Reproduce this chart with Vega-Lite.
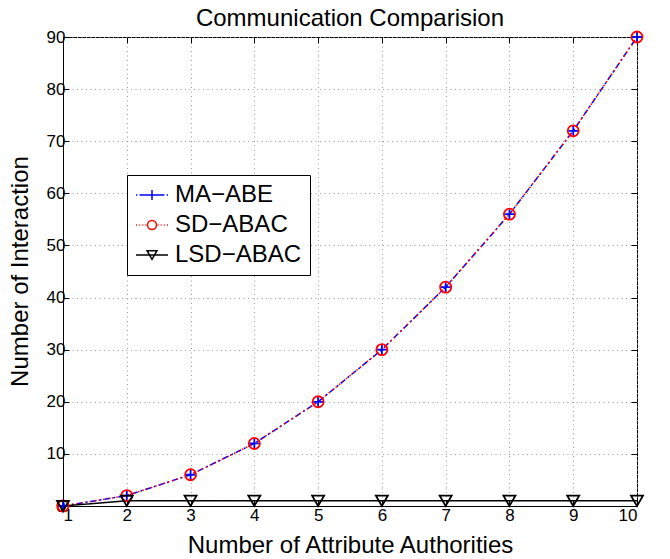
{
  "$schema": "https://vega.github.io/schema/vega-lite/v6.json",
  "width": 574,
  "height": 469,
  "autosize": {"type": "none"},
  "padding": {"left": 63, "top": 37, "right": 33, "bottom": 53},
  "background": "white",
  "title": {"text": "Communication Comparision", "fontSize": 24, "font": "Liberation Sans", "fontWeight": "normal", "color": "black", "baseline": "alphabetic", "offset": 12, "dy": 34, "anchor": "middle", "frame": "group"},
  "config": {
    "font": "Liberation Sans",
    "view": {"stroke": "black", "strokeWidth": 1},
    "axis": {"labelFont": "Liberation Sans", "labelFontSize": 17, "labelColor": "black", "titleFont": "Liberation Sans", "titleFontSize": 24, "titleFontWeight": "normal", "titleColor": "black", "domainColor": "black", "tickColor": "black", "gridColor": "#9a9a9a", "gridDash": [1, 3.5], "tickSize": -6, "labelPadding": 4}
  },
  "data": {"values": [
    {"x": 1, "series": "MA−ABE", "value": 0},
    {"x": 2, "series": "MA−ABE", "value": 2},
    {"x": 3, "series": "MA−ABE", "value": 6},
    {"x": 4, "series": "MA−ABE", "value": 12},
    {"x": 5, "series": "MA−ABE", "value": 20},
    {"x": 6, "series": "MA−ABE", "value": 30},
    {"x": 7, "series": "MA−ABE", "value": 42},
    {"x": 8, "series": "MA−ABE", "value": 56},
    {"x": 9, "series": "MA−ABE", "value": 72},
    {"x": 10, "series": "MA−ABE", "value": 90},
    {"x": 1, "series": "SD−ABAC", "value": 0},
    {"x": 2, "series": "SD−ABAC", "value": 2},
    {"x": 3, "series": "SD−ABAC", "value": 6},
    {"x": 4, "series": "SD−ABAC", "value": 12},
    {"x": 5, "series": "SD−ABAC", "value": 20},
    {"x": 6, "series": "SD−ABAC", "value": 30},
    {"x": 7, "series": "SD−ABAC", "value": 42},
    {"x": 8, "series": "SD−ABAC", "value": 56},
    {"x": 9, "series": "SD−ABAC", "value": 72},
    {"x": 10, "series": "SD−ABAC", "value": 90},
    {"x": 1, "series": "LSD−ABAC", "value": 0},
    {"x": 2, "series": "LSD−ABAC", "value": 1},
    {"x": 3, "series": "LSD−ABAC", "value": 1},
    {"x": 4, "series": "LSD−ABAC", "value": 1},
    {"x": 5, "series": "LSD−ABAC", "value": 1},
    {"x": 6, "series": "LSD−ABAC", "value": 1},
    {"x": 7, "series": "LSD−ABAC", "value": 1},
    {"x": 8, "series": "LSD−ABAC", "value": 1},
    {"x": 9, "series": "LSD−ABAC", "value": 1},
    {"x": 10, "series": "LSD−ABAC", "value": 1}
  ]},
  "layer": [
    {
      "mark": {"type": "line", "strokeWidth": 1.5, "clip": false},
      "encoding": {
        "x": {"field": "x", "type": "quantitative", "scale": {"domain": [1, 10], "nice": false, "zero": false},
              "axis": {"values": [1,2,3,4,5,6,7,8,9,10], "title": "Number of Attribute Authorities", "grid": true, "titleBaseline": "alphabetic", "titleY": 46, "labelPadding": 7}},
        "y": {"field": "value", "type": "quantitative", "scale": {"domain": [0, 90], "nice": false},
              "axis": {"values": [0,10,20,30,40,50,60,70,80,90], "title": "Number of Interaction", "grid": true, "titleBaseline": "alphabetic", "titleX": -36, "titleY": 234, "titleAngle": -90}},
        "stroke": {"field": "series", "type": "nominal", "scale": {"domain": ["MA−ABE", "SD−ABAC", "LSD−ABAC"], "range": ["#0000ff", "#ff0000", "#000000"]}, "legend": null},
        "strokeDash": {"field": "series", "type": "nominal", "scale": {"domain": ["MA−ABE", "SD−ABAC", "LSD−ABAC"], "range": [[6, 3, 2, 3], [1.5, 3], [1, 0]]}, "legend": null}
      }
    },
    {
      "mark": {"type": "point", "filled": false, "strokeWidth": 1.8, "opacity": 1, "clip": false},
      "encoding": {
        "x": {"field": "x", "type": "quantitative", "axis": null},
        "y": {"field": "value", "type": "quantitative", "axis": null},
        "stroke": {"field": "series", "type": "nominal", "legend": null},
        "shape": {"field": "series", "type": "nominal", "scale": {"domain": ["MA−ABE", "SD−ABAC", "LSD−ABAC"], "range": ["M-1,0L1,0M0,-1L0,1", "circle", "triangle-down"]}, "legend": null},
        "size": {"field": "series", "type": "nominal", "scale": {"domain": ["MA−ABE", "SD−ABAC", "LSD−ABAC"], "range": [100, 144, 120]}, "legend": null}
      }
    },
    {
      "transform": [{"filter": "datum.x > 100"}],
      "mark": {"type": "point", "filled": false, "strokeWidth": 1.5, "opacity": 1},
      "encoding": {
        "x": {"field": "x", "type": "quantitative", "axis": {"orient": "top", "values": [1,2,3,4,5,6,7,8,9,10], "labels": false, "grid": false, "domain": false, "title": null}},
        "y": {"field": "value", "type": "quantitative", "axis": {"orient": "right", "values": [0,10,20,30,40,50,60,70,80,90], "labels": false, "grid": false, "domain": false, "title": null}},
        "color": {"field": "series", "type": "nominal", "scale": {"domain": ["MA−ABE", "SD−ABAC", "LSD−ABAC"], "range": ["#0000ff", "#ff0000", "#000000"]},
                  "legend": {"orient": "none", "legendX": 64, "legendY": 138, "title": null, "labelFontSize": 24, "labelFont": "Liberation Sans", "labelColor": "black", "symbolSize": 1024, "symbolStrokeWidth": 1.5, "strokeColor": "black", "fillColor": "white", "padding": 8, "rowPadding": 6, "labelOffset": 6, "clipHeight": 24}},
        "shape": {"field": "series", "type": "nominal", "scale": {"domain": ["MA−ABE", "SD−ABAC", "LSD−ABAC"], "range": [
          "M-1,0L-0.92,0M-0.78,0L0.78,0M0.92,0L1,0M0,-0.32L0,0.32",
          "M-1,0L-0.94,0M-0.8,0L-0.74,0M-0.6,0L-0.54,0M-0.42,0L-0.36,0M0.36,0L0.42,0M0.54,0L0.6,0M0.74,0L0.8,0M0.94,0L1,0M0.28,0A0.28,0.28 0 1,1 -0.28,0A0.28,0.28 0 1,1 0.28,0",
          "M-1,0L1,0M-0.31,-0.27L0.31,-0.27L0,0.27Z"
        ]},
                  "legend": {"orient": "none", "legendX": 64, "legendY": 138, "title": null, "labelFontSize": 24, "labelFont": "Liberation Sans", "labelColor": "black", "symbolSize": 1024, "symbolStrokeWidth": 1.5, "strokeColor": "black", "fillColor": "white", "padding": 8, "rowPadding": 6, "labelOffset": 6, "clipHeight": 24}}
      }
    }
  ],
  "resolve": {"scale": {"shape": "independent", "size": "independent", "color": "independent"}, "axis": {"x": "independent", "y": "independent"}}
}
